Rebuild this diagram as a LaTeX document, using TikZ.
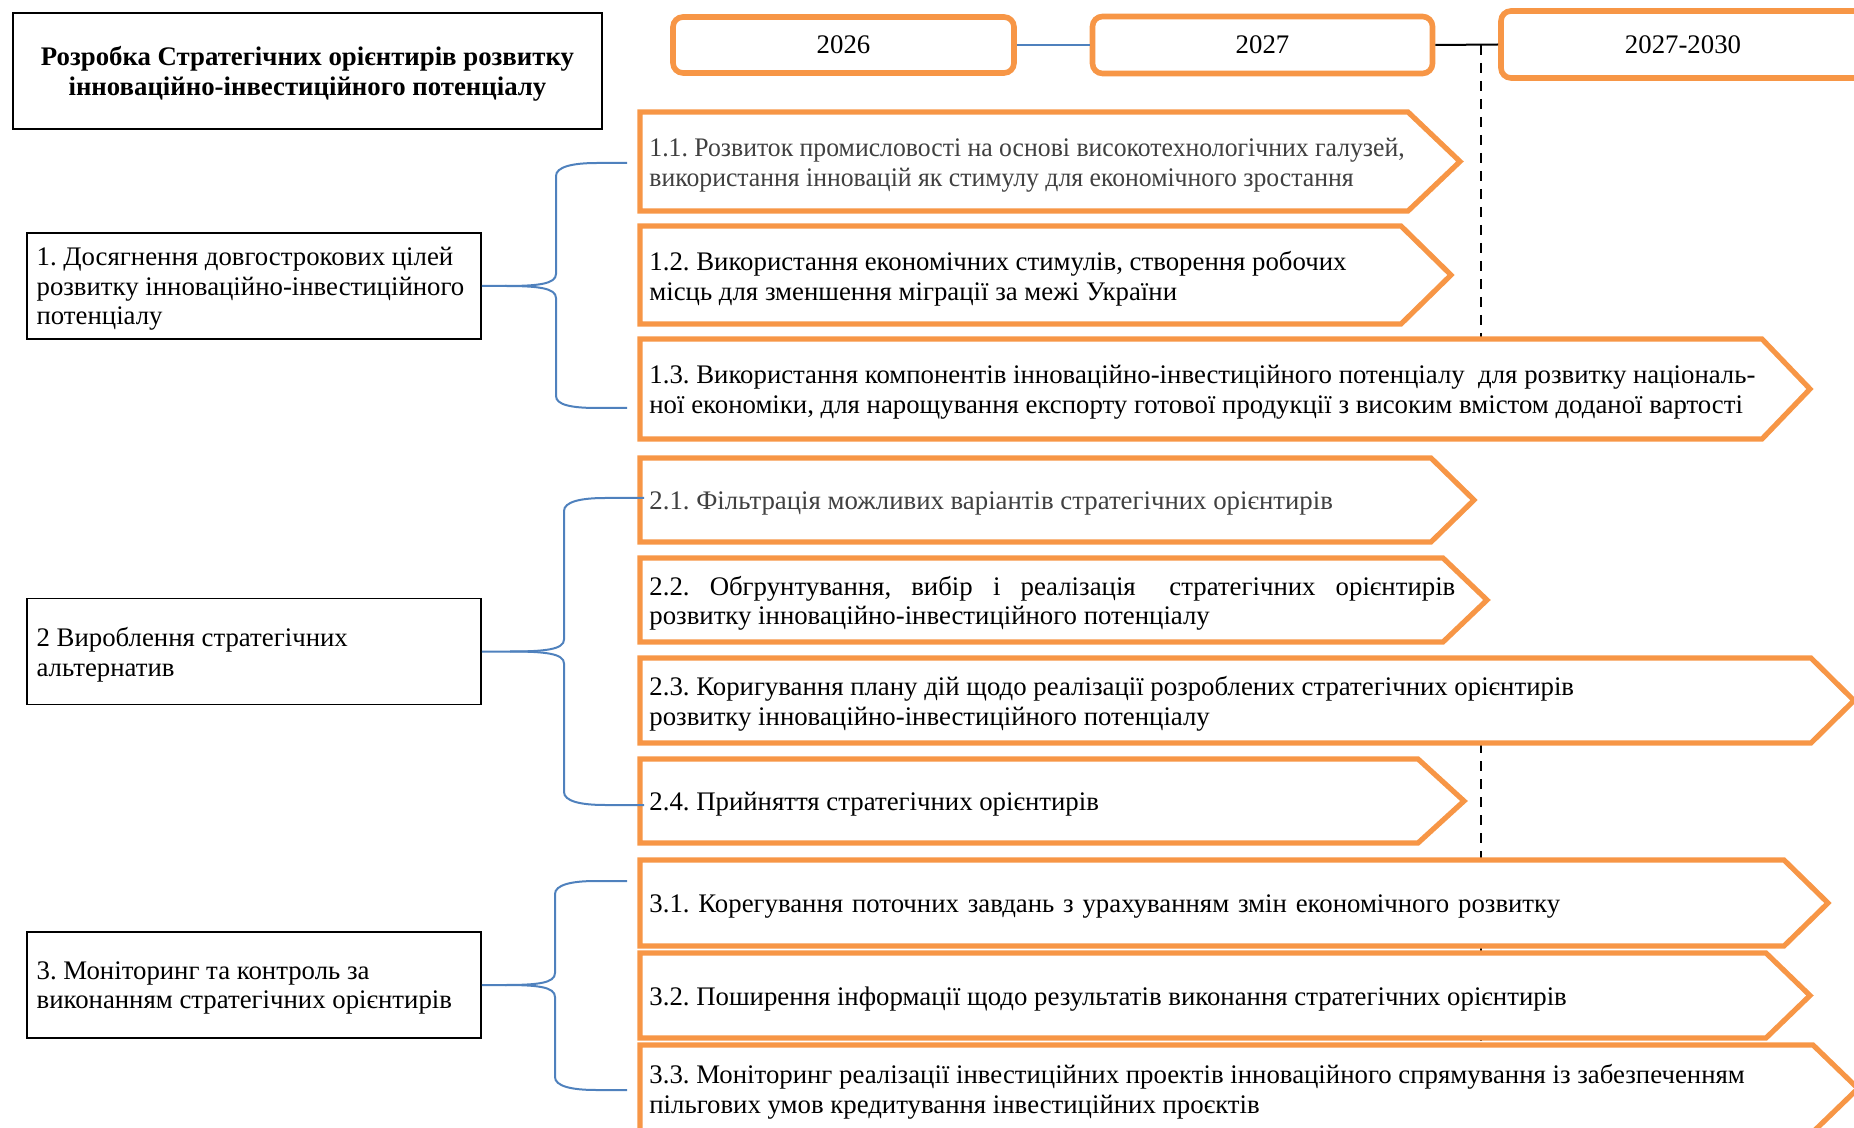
\documentclass[tikz,border=0pt]{standalone}
\usepackage{graphicx}
\usepackage{fontspec}
\setmainfont{Liberation Serif}
\frenchspacing
\definecolor{org}{HTML}{F79646}
\definecolor{brc}{HTML}{4F81BD}
\definecolor{gtx}{HTML}{404040}
\newcommand\fs{\fontsize{13.4}{14.8}\selectfont\frenchspacing}
\newcommand\nx[1]{\scalebox{0.96}[1]{#1}}
\tikzset{
 obox/.style={draw=org, line width=2.6pt, fill=white, line join=miter},
 otext/.style={anchor=west, align=left, inner sep=0pt, font=\fs},
 lbox/.style={draw, line width=0.8pt, minimum width=227pt, minimum height=53pt, inner sep=0pt},
 ltext/.style={anchor=west, align=left, inner sep=0pt, font=\fs},
 tbox/.style={draw, line width=0.8pt, minimum width=294.5pt, minimum height=58pt, inner sep=0pt},
 ttext/.style={align=center, inner sep=0pt, font=\fs\bfseries},
 ybox/.style={draw=org, line width=2.8pt, rounded corners=5pt, fill=white, font=\fs, inner sep=0pt},
 brk/.style={draw=brc, line width=1pt},
 dline/.style={draw=black, line width=0.7pt, dash pattern=on 5pt off 4pt},
}
% #1 text colour, #2 name, #3 top, #4 bottom, #5 shoulder x, #6 tip x, #7 text
\newcommand\obx[7][black]{%
 \draw[obox] (640,#3) -- (#5,#3) -- (#6,{(#3+#4)/2}) -- (#5,#4) -- (640,#4) -- cycle;
 \node[otext, text=#1] (#2) at (649,{(#3+#4)/2+3.5}) {#7};}
\begin{document}
\begin{tikzpicture}[x=0.5pt, y=-0.5pt]
\useasboundingbox (0,0) rectangle (1854,1128);
\clip (0,0) rectangle (1854,1128);

% title
\node[tbox] (title) at (307.5,71) {};
\node[ttext] (titletext) at ([yshift=-1.5pt]title.center) {Розробка Стратегічних орієнтирів розвитку\\ інноваційно-інвестиційного потенціалу};

% years
\node[ybox, minimum width=170.5pt, minimum height=28pt] (y26) at (843.5,45) {\raisebox{-0.5pt}{2026}};
\node[ybox, minimum width=170pt, minimum height=28.5pt] (y27) at (1262.5,45) {\raisebox{-0.5pt}{2027}};
\node[ybox, minimum width=182pt, minimum height=33.5pt] (y30) at (1683,44.5) {\raisebox{-0.5pt}{2027-2030}};
\draw[draw=brc, line width=1pt] (y26.east) -- (y27.west);
\draw[line width=1pt] (y27.east) -- (y30.west);

% dashed time line
\coordinate (d0) at (1481,45);
\coordinate (d1) at (1481,338);
\coordinate (d2) at (1481,743);
\coordinate (d3) at (1481,1128);
\draw[dline] (d0) -- (d1);
\draw[dline] (d2) -- (d3);

% left boxes
\node[lbox] (g1) at (254,286) {};
\node[ltext] (g1t) at ([xshift=5pt,yshift=-1.5pt]g1.west) {1. Досягнення довгострокових цілей\\ розвитку інноваційно-інвестиційного\\ потенціалу};
\node[lbox] (g2) at (254,651.5) {};
\node[ltext] (g2t) at ([xshift=5pt,yshift=-1.5pt]g2.west) {2 Вироблення стратегічних\\ альтернатив};
\node[lbox] (g3) at (254,985) {};
\node[ltext] (g3t) at ([xshift=5pt,yshift=-1.5pt]g3.west) {3. Моніторинг та контроль за\\ виконанням стратегічних орієнтирів};

% orange arrow boxes
\obx[gtx]{b11}{112}{211}{1408}{1460}{\nx{1.1. Розвиток промисловості на основі високотехнологічних галузей,}\\ \nx{використання інновацій як стимулу для економічного зростання}}
\obx{b12}{226}{324}{1401}{1451}{1.2. Використання економічних стимулів, створення робочих\\ місць для зменшення міграції за межі України}
\obx{b13}{339}{439}{1762}{1810}{1.3. Використання компонентів інноваційно-інвестиційного потенціалу\ \ для розвитку національ-\\ ної економіки, для нарощування експорту готової продукції з високим вмістом доданої вартості}
\obx[gtx]{b21}{458}{542}{1431}{1474}{2.1. Фільтрація можливих варіантів стратегічних орієнтирів}
\obx{b22}{558}{642}{1443}{1487}{\parbox{403pt}{2.2. \hfill Обгрунтування, \hfill вибір \hfill і \hfill реалізація \hfill\hfill стратегічних \hfill орієнтирів\\ розвитку інноваційно-інвестиційного потенціалу}}
\obx{b23}{658}{743}{1811}{1854}{2.3. Коригування плану дій щодо реалізації розроблених стратегічних орієнтирів\\ розвитку інноваційно-інвестиційного потенціалу}
\obx{b24}{759}{843}{1418}{1464}{2.4. Прийняття стратегічних орієнтирів}
\obx{b31}{860}{946}{1784}{1828}{\spaceskip=4.4pt 3.1. Корегування поточних завдань з урахуванням змін економічного розвитку}
\obx{b32}{953}{1038}{1766}{1810}{3.2. Поширення інформації щодо результатів виконання стратегічних орієнтирів}
\obx{b33}{1045}{1132}{1813}{1858}{3.3. Моніторинг реалізації інвестиційних проектів інноваційного спрямування із забезпеченням\\ пільгових умов кредитування інвестиційних проєктів}

% brace ends
\coordinate (a11) at (627,163);
\coordinate (a13) at (627,408);
\coordinate (a21) at (644,498);
\coordinate (a24) at (644,805);
\coordinate (a31) at (627,881);
\coordinate (a33) at (627,1090);

% braces
\draw[brk] (g1.east) -- (505,286) .. controls (538,286) and (556,284) .. (556,274) -- (556,176) .. controls (556,167) and (572,163) .. (597,163) -- (a11);
\draw[brk] (505,286) .. controls (538,286) and (556,288) .. (556,298) -- (556,396) .. controls (556,405) and (572,408) .. (597,408) -- (a13);

\draw[brk] (g2.east) -- (510,651.5) .. controls (545,651.5) and (564,649.5) .. (564,639.5) -- (564,511) .. controls (564,502) and (580,498) .. (605,498) -- (a21);
\draw[brk] (510,651.5) .. controls (545,651.5) and (564,653.5) .. (564,663.5) -- (564,792) .. controls (564,801) and (580,805) .. (605,805) -- (a24);

\draw[brk] (g3.east) -- (505,985) .. controls (538,985) and (555,983) .. (555,973) -- (555,894) .. controls (555,885) and (571,881) .. (596,881) -- (a31);
\draw[brk] (505,985) .. controls (538,985) and (555,987) .. (555,997) -- (555,1077) .. controls (555,1086) and (571,1090) .. (596,1090) -- (a33);
\end{tikzpicture}
\end{document}
